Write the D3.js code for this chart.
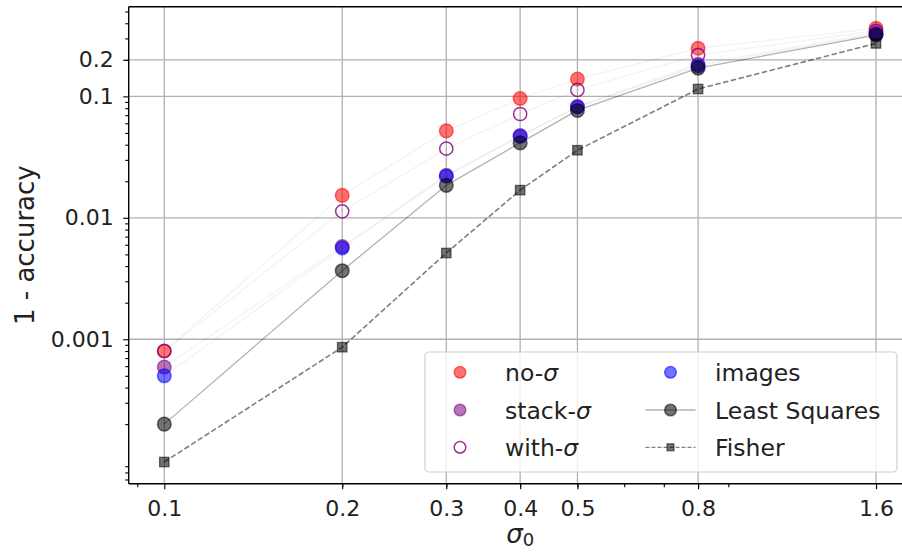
<!DOCTYPE html>
<html lang="en">
<head>
  <meta charset="UTF-8" />
  <title>1 - accuracy vs sigma0</title>
  <script src="https://d3js.org/d3.v7.js"></script>
  <style>
    body { margin: 0; background: #fff; }
    svg { display: block; overflow: hidden; font-family: "DejaVu Sans", sans-serif; }
  </style>
</head>
<body>
  <svg></svg>
<script>

  // values
  const sigmas = [0.1, 0.2, 0.3, 0.4, 0.5, 0.8, 1.6];
  const noSigma = [0.0008, 0.0153, 0.052, 0.096, 0.139, 0.249, 0.363];
  const stackSigma = [0.00059, 0.0058, 0.0224, 0.0475, 0.0825, 0.184, 0.334];
  const withSigma = [0.0008, 0.0113, 0.0371, 0.0716, 0.113, 0.219, 0.347];
  const images = [0.0005, 0.00564, 0.022, 0.0469, 0.0817, 0.178, 0.326];
  const leastSquares = [0.0002, 0.00367, 0.0185, 0.0414, 0.0766, 0.171, 0.32];
  const fisher = [0.0000975, 0.00086, 0.00513, 0.0169, 0.036, 0.115, 0.273];

  const xTicks = [0.1, 0.2, 0.3, 0.4, 0.5, 0.8, 1.6];
  const yTicks = [0.001, 0.01, 0.1, 0.2];

  const width = 902, height = 552;
  const plotLeft = 128.7, plotRight = 911.6, plotTop = 6.7, plotBottom = 483.7;

  const svg = d3.select('svg').attr('width', width).attr('height', height);

  // log margins of 5% like matplotlib
  function logPad(lo, hi) {
    const a = Math.log10(lo), b = Math.log10(hi), m = (b - a) * 0.05;
    return [Math.pow(10, a - m), Math.pow(10, b + m)];
  }
  const allY = [].concat(noSigma, stackSigma, withSigma, images, leastSquares, fisher);
  const xScale = d3.scaleLog().domain(logPad(d3.min(sigmas), d3.max(sigmas))).range([plotLeft, plotRight]);
  const yScale = d3.scaleLog().domain(logPad(d3.min(allY), d3.max(allY))).range([plotBottom, plotTop]);

  // minor ticks 2..9 per decade inside the domain
  function minorTicks(scale) {
    const [lo, hi] = scale.domain();
    const out = [];
    for (let e = Math.floor(Math.log10(lo)); e <= Math.ceil(Math.log10(hi)); e++) {
      for (let s = 2; s <= 9; s++) {
        const v = s * Math.pow(10, e);
        if (v >= lo && v <= hi) out.push(v);
      }
    }
    return out;
  }

  // grid
  const grid = svg.append('g');
  grid.selectAll('.gx').data(xTicks).join('line')
    .attr('x1', d => xScale(d)).attr('x2', d => xScale(d))
    .attr('y1', plotTop).attr('y2', plotBottom)
    .attr('stroke', '#b0b0b0').attr('stroke-width', 1.3);
  grid.selectAll('.gy').data(yTicks).join('line')
    .attr('x1', plotLeft).attr('x2', plotRight)
    .attr('y1', d => yScale(d)).attr('y2', d => yScale(d))
    .attr('stroke', '#b0b0b0').attr('stroke-width', 1.3);

  const line = d3.line().x(d => xScale(d[0])).y(d => yScale(d[1]));
  const pairs = vals => sigmas.map((s, i) => [s, vals[i]]);

  // faint connecting lines for the network results
  [noSigma, stackSigma, withSigma, images].forEach(v => {
    svg.append('path').datum(pairs(v))
      .attr('d', line).attr('fill', 'none')
      .attr('stroke', '#000').attr('stroke-opacity', 0.05).attr('stroke-width', 1.3);
  });

  svg.append('path').datum(pairs(leastSquares))
    .attr('d', line).attr('fill', 'none')
    .attr('stroke', '#000').attr('stroke-opacity', 0.3).attr('stroke-width', 1.3);
  svg.append('path').datum(pairs(fisher))
    .attr('d', line).attr('fill', 'none')
    .attr('stroke', '#000').attr('stroke-opacity', 0.5).attr('stroke-width', 1.6)
    .attr('stroke-dasharray', '5.5,2.5');

  function dots(vals, fill, stroke, op, r) {
    svg.append('g').selectAll('circle').data(pairs(vals)).join('circle')
      .attr('cx', d => xScale(d[0])).attr('cy', d => yScale(d[1])).attr('r', r)
      .attr('fill', fill).attr('fill-opacity', op)
      .attr('stroke', stroke).attr('stroke-opacity', op).attr('stroke-width', 1.5);
  }
  dots(noSigma, 'red', 'red', 0.55, 6.8);
  dots(stackSigma, 'purple', 'purple', 0.55, 6.8);
  dots(withSigma, 'none', 'purple', 0.8, 6.6);
  dots(images, 'blue', 'blue', 0.55, 6.8);
  dots(leastSquares, '#000', '#000', 0.55, 6.8);

  svg.append('g').selectAll('rect').data(pairs(fisher)).join('rect')
    .attr('x', d => xScale(d[0]) - 4.7).attr('y', d => yScale(d[1]) - 4.7)
    .attr('width', 9.4).attr('height', 9.4)
    .attr('fill', '#000').attr('fill-opacity', 0.55)
    .attr('stroke', '#000').attr('stroke-opacity', 0.55).attr('stroke-width', 1.3);

  // axes
  svg.append('g').attr('transform', 'translate(0,' + plotBottom + ')')
    .call(d3.axisBottom(xScale).tickValues(xTicks).tickFormat(d3.format('')).tickSize(5.5).tickPadding(11));
  svg.append('g').attr('transform', 'translate(0,' + plotBottom + ')')
    .call(d3.axisBottom(xScale).tickValues(minorTicks(xScale)).tickFormat('').tickSize(3.5));
  svg.append('g').attr('transform', 'translate(' + plotLeft + ',0)')
    .call(d3.axisLeft(yScale).tickValues(yTicks).tickFormat(d3.format('')).tickSize(5.5).tickPadding(9.5));
  svg.append('g').attr('transform', 'translate(' + plotLeft + ',0)')
    .call(d3.axisLeft(yScale).tickValues(minorTicks(yScale)).tickFormat('').tickSize(3.5));

  svg.selectAll('.domain').remove();
  svg.selectAll('.tick line').attr('stroke', '#000').attr('stroke-width', 1.1);
  svg.selectAll('.tick text').attr('font-size', 22).attr('fill', '#222')
    .attr('font-family', '"DejaVu Sans", sans-serif');

  // spines
  const spine = (x1, y1, x2, y2) => svg.append('line')
    .attr('x1', x1).attr('y1', y1).attr('x2', x2).attr('y2', y2)
    .attr('stroke', '#000').attr('stroke-width', 1.4);
  spine(plotLeft, plotBottom, plotRight, plotBottom);
  spine(plotLeft, plotTop, plotRight, plotTop);
  spine(plotLeft, plotTop, plotLeft, plotBottom);
  spine(plotRight, plotTop, plotRight, plotBottom);

  // axis titles
  svg.append('text')
    .attr('transform', 'translate(34,' + ((plotTop + plotBottom) / 2) + ') rotate(-90)')
    .attr('text-anchor', 'middle').attr('font-size', 26).attr('fill', '#222')
    .text('1 - accuracy');
  const xl = svg.append('text')
    .attr('x', (plotLeft + plotRight) / 2).attr('y', 543)
    .attr('text-anchor', 'middle').attr('font-size', 26).attr('fill', '#222');
  xl.append('tspan').attr('font-style', 'italic').text('σ');
  xl.append('tspan').attr('font-size', 18).attr('dy', 3).text('0');

  // legend
  const lg = svg.append('g');
  lg.append('rect').attr('x', 425).attr('y', 352).attr('width', 472).attr('height', 120)
    .attr('rx', 4).attr('fill', '#fff').attr('fill-opacity', 0.8)
    .attr('stroke', '#d0d0d0').attr('stroke-width', 1.2);

  const entries = [
    { name: 'no-', sig: true, kind: 'dot', fill: 'red', stroke: 'red', op: 0.55, col: 0, row: 0 },
    { name: 'stack-', sig: true, kind: 'dot', fill: 'purple', stroke: 'purple', op: 0.55, col: 0, row: 1 },
    { name: 'with-', sig: true, kind: 'dot', fill: 'none', stroke: 'purple', op: 0.8, col: 0, row: 2 },
    { name: 'images', sig: false, kind: 'dot', fill: 'blue', stroke: 'blue', op: 0.55, col: 1, row: 0 },
    { name: 'Least Squares', sig: false, kind: 'ls', col: 1, row: 1 },
    { name: 'Fisher', sig: false, kind: 'fisher', col: 1, row: 2 }
  ];
  const colMarker = [460, 670.5], colText = [505, 715], rowY = [372.3, 410, 447.3];

  entries.forEach(e => {
    const mx = colMarker[e.col], my = rowY[e.row];
    if (e.kind === 'dot') {
      lg.append('circle').attr('cx', mx).attr('cy', my).attr('r', 5.8)
        .attr('fill', e.fill).attr('fill-opacity', e.op)
        .attr('stroke', e.stroke).attr('stroke-opacity', e.op).attr('stroke-width', 1.5);
    } else if (e.kind === 'ls') {
      lg.append('line').attr('x1', mx - 25).attr('x2', mx + 25).attr('y1', my).attr('y2', my)
        .attr('stroke', '#000').attr('stroke-opacity', 0.3).attr('stroke-width', 1.3);
      lg.append('circle').attr('cx', mx).attr('cy', my).attr('r', 5.8)
        .attr('fill', '#000').attr('fill-opacity', 0.55)
        .attr('stroke', '#000').attr('stroke-opacity', 0.55).attr('stroke-width', 1.5);
    } else {
      lg.append('line').attr('x1', mx - 25).attr('x2', mx + 25).attr('y1', my).attr('y2', my)
        .attr('stroke', '#000').attr('stroke-opacity', 0.5).attr('stroke-width', 1.3)
        .attr('stroke-dasharray', '4,2');
      lg.append('rect').attr('x', mx - 3.5).attr('y', my - 3.5).attr('width', 7).attr('height', 7)
        .attr('fill', '#000').attr('fill-opacity', 0.55)
        .attr('stroke', '#000').attr('stroke-opacity', 0.55).attr('stroke-width', 1.2);
    }
    const t = lg.append('text').attr('x', colText[e.col]).attr('y', my + 8.5)
      .attr('font-size', 23.5).attr('fill', '#222');
    t.append('tspan').text(e.name);
    if (e.sig) t.append('tspan').attr('font-style', 'italic').text('σ');
  });

</script>
</body>
</html>
